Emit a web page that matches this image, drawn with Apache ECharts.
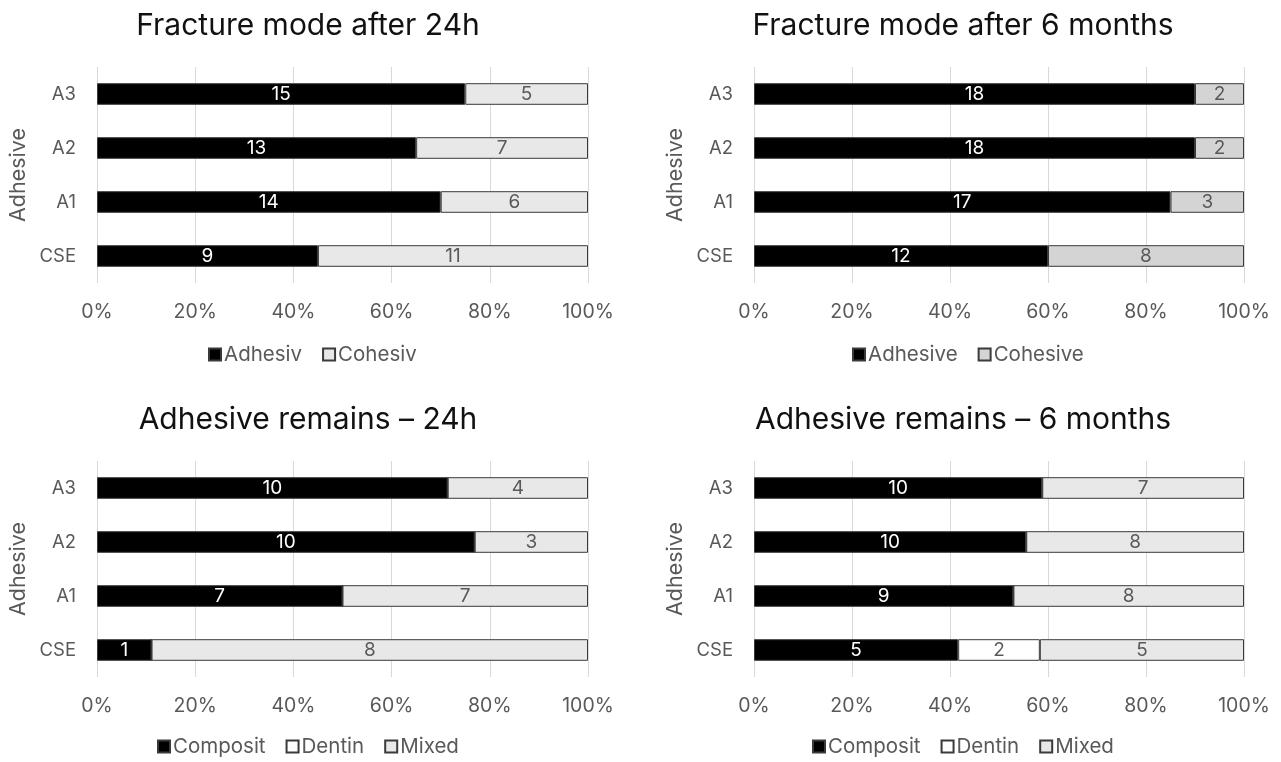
<!DOCTYPE html>
<html><head><meta charset="utf-8">
<script src="https://cdn.jsdelivr.net/npm/echarts@6/dist/echarts.min.js"></script>
<style>html,body{margin:0;padding:0;background:#fff}#c{width:1281px;height:762px}</style>
</head><body><div id="c"></div>
<script>
const categories = ['CSE', 'A1', 'A2', 'A3'];
const tickLabels = ['0%', '20%', '40%', '60%', '80%', '100%'];
const titles = ['Fracture mode after 24h', 'Fracture mode after 6 months', 'Adhesive remains \u2013 24h', 'Adhesive remains \u2013 6 months'];
// Panel 1: Fracture mode after 24h (counts)
const adhesiv24 = [9, 14, 13, 15];
const cohesiv24 = [11, 6, 7, 5];
// Panel 2: Fracture mode after 6 months
const adhesive6m = [12, 17, 18, 18];
const cohesive6m = [8, 3, 2, 2];
// Panel 3: Adhesive remains 24h
const composit24 = [1, 7, 10, 10];
const dentin24 = [0, 0, 0, 0];
const mixed24 = [8, 7, 3, 4];
// Panel 4: Adhesive remains 6 months
const composit6m = [5, 9, 10, 10];
const dentin6m = [2, 0, 0, 0];
const mixed6m = [5, 8, 8, 7];

const FONT = 'Inter, "Noto Sans", sans-serif';
const panels = [
  {series: [['Adhesiv', adhesiv24, '#000000'], ['Cohesiv', cohesiv24, '#e8e8e8']]},
  {series: [['Adhesive', adhesive6m, '#000000'], ['Cohesive', cohesive6m, '#d4d4d4']]},
  {series: [['Composit', composit24, '#000000'], ['Dentin', dentin24, '#ffffff'], ['Mixed', mixed24, '#e8e8e8']]},
  {series: [['Composit', composit6m, '#000000'], ['Dentin', dentin6m, '#ffffff'], ['Mixed', mixed6m, '#e8e8e8']]}
];
const grids = [
  {left: 97, width: 491, top: 67, height: 216},
  {left: 754, width: 490, top: 67, height: 216},
  {left: 97, width: 491, top: 461, height: 216},
  {left: 754, width: 490, top: 461, height: 216}
];
const titlePos = [[308, 11], [963, 11], [308, 405], [963, 405]];
const legendPos = [[208, 344], [852, 344], [157, 736], [812, 736]];

const option = {
  animation: false,
  backgroundColor: '#ffffff',
  title: titles.map((t, i) => ({
    text: t, left: titlePos[i][0], top: titlePos[i][1], textAlign: 'center', padding: 0,
    textStyle: {fontFamily: FONT, fontSize: 30, fontWeight: 'normal', color: '#111'}
  })),
  grid: grids,
  xAxis: grids.map((g, i) => ({
    type: 'value', gridIndex: i, min: 0, max: 100, interval: 20,
    axisLine: {show: false}, axisTick: {show: false},
    splitLine: {lineStyle: {color: '#d9d9d9', width: 1}},
    axisLabel: {fontFamily: FONT, fontSize: 19.5, color: '#595959', margin: 19,
      formatter: v => tickLabels[Math.round(v / 20)]}
  })),
  yAxis: grids.map((g, i) => ({
    type: 'category', gridIndex: i, data: categories,
    axisLine: {show: false}, axisTick: {show: false},
    axisLabel: {fontFamily: FONT, fontSize: 18.5, color: '#595959', margin: 21},
    name: 'Adhesive', nameLocation: 'middle', nameGap: 67, nameRotate: 90,
    nameTextStyle: {fontFamily: FONT, fontSize: 21.5, color: '#595959'}
  })),
  legend: panels.map((p, i) => ({
    left: legendPos[i][0], top: legendPos[i][1], padding: 0,
    data: p.series.map(s => s[0]),
    icon: 'rect', itemWidth: 12, itemHeight: 12, itemGap: 20,
    selectedMode: false,
    textStyle: {fontFamily: FONT, fontSize: 20.5, color: '#595959', padding: [0, 0, 0, -2]}
  })),
  series: []
};

panels.forEach((p, pi) => {
  const totals = categories.map((c, ci) => p.series.reduce((a, s) => a + s[1][ci], 0));
  p.series.forEach(([name, vals, color]) => {
    option.series.push({
      name, type: 'bar', stack: 'p' + pi, xAxisIndex: pi, yAxisIndex: pi,
      barWidth: '40%',
      data: vals.map((v, ci) => v / totals[ci] * 100),
      itemStyle: {color, borderColor: '#3a3a3a', borderWidth: 1},
      label: {
        show: true, position: 'inside', fontFamily: FONT, fontSize: 19,
        color: color === '#000000' ? '#ffffff' : '#595959',
        formatter: prm => vals[prm.dataIndex] ? String(vals[prm.dataIndex]) : ''
      }
    });
  });
});

const chart = echarts.init(document.getElementById('c'), null, {renderer: 'canvas'});
chart.setOption(option);
</script></body></html>
